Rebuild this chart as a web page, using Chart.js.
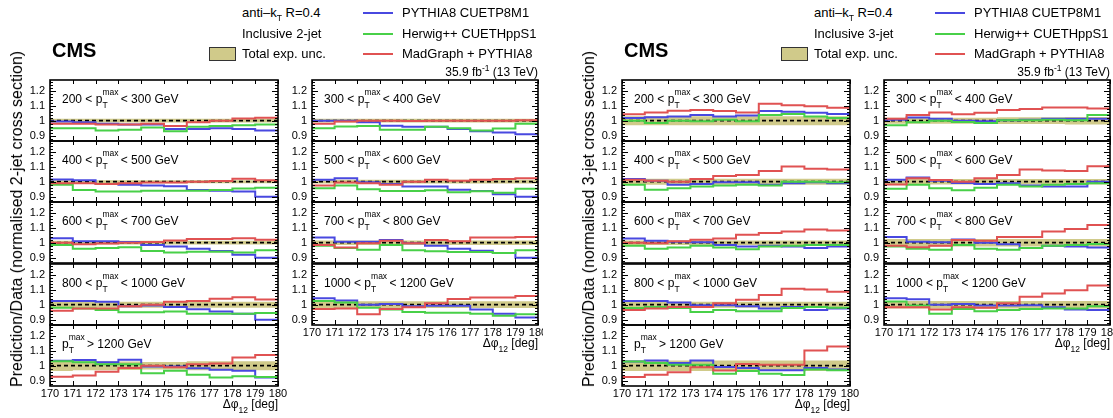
<!DOCTYPE html>
<html><head><meta charset="utf-8">
<script src="https://cdn.jsdelivr.net/npm/chart.js@4.4.1/dist/chart.umd.min.js"></script>
<style>
body{margin:0;background:#fff;}
#root{position:relative;width:1113px;height:418px;overflow:hidden;font-family:"Liberation Sans",Arial,Helvetica,sans-serif;color:#000;background:#fff;}
.t{position:absolute;white-space:nowrap;line-height:1;}
canvas{position:absolute;}
.ss{display:inline-block;position:relative;width:15px;height:9px;}
.ss .sp{position:absolute;left:0;top:-6px;font-size:8.5px;}
.ss .sb{position:absolute;left:0;top:7px;font-size:8.5px;}
</style></head><body><div id="root"></div>
<script>
// ---------- data ----------
const dphiEdges = [170,171,172,173,174,175,176,177,178,179,180];
const yTicks = [0.9,1.0,1.1,1.2];
const yTickLabels = ['0.9','1','1.1','1.2'];
const ptLow  = [200,300,400,500,600,700,800,1000,1200];
const ptHigh = [300,400,500,600,700,800,1000,1200,null];
const jetLabels = ['2-jet','3-jet'];

// Inclusive 2-jet: one row per pT bin, one value per dphi bin
const pythia2 = [
 [0.995,0.99,0.98,0.975,0.975,0.945,0.945,0.95,0.945,0.935],
 [1.0,1.0,0.99,0.967,0.96,0.96,0.945,0.93,0.922,0.91],
 [1.015,1.01,0.985,0.98,0.975,0.97,0.945,0.94,0.935,0.9],
 [1.013,1.023,0.996,0.985,0.968,0.968,0.947,0.938,0.917,0.9],
 [1.03,1.01,1.01,1.005,0.985,0.975,0.96,0.945,0.92,0.9],
 [1.034,1.006,1.006,1.017,0.996,0.98,0.96,0.947,0.932,0.9],
 [1.025,1.025,1.02,0.99,0.995,0.985,0.97,0.955,0.94,0.9],
 [1.043,1.028,1.0,1.004,0.99,0.993,0.993,0.968,0.94,0.915],
 [1.033,1.038,1.022,1.04,0.995,0.995,0.983,0.973,0.967,0.922]
];
const herwig2 = [
 [0.95,0.95,0.935,0.94,0.955,0.93,0.96,0.965,0.97,0.975],
 [0.95,0.962,0.965,0.94,0.94,0.96,0.95,0.935,0.948,0.98],
 [0.98,0.945,0.935,0.935,0.94,0.94,0.94,0.945,0.955,0.96],
 [0.957,0.975,0.95,0.938,0.938,0.943,0.93,0.936,0.926,0.953],
 [0.985,0.96,0.965,0.97,0.945,0.935,0.94,0.94,0.935,0.95],
 [0.979,0.964,0.953,0.985,0.949,0.943,0.938,0.938,0.932,0.949],
 [0.98,0.975,0.965,0.95,0.95,0.955,0.94,0.94,0.94,0.945],
 [1.025,1.015,0.979,0.968,0.951,0.947,0.947,0.94,0.926,0.936],
 [1.03,1.022,1.01,1.01,0.95,0.967,0.94,0.922,0.93,0.925]
];
const madgraph2 = [
 [0.98,0.98,0.975,0.975,0.98,0.965,0.99,1.0,1.015,1.02],
 [0.98,0.995,1.0,1.0,0.998,1.0,1.0,1.0,1.0,1.003],
 [0.99,0.99,0.985,0.99,0.995,0.995,1.0,1.005,1.02,1.01],
 [0.975,0.995,0.99,0.98,1.0,1.013,1.006,1.013,1.017,1.023],
 [1.0,0.99,0.995,1.0,1.005,1.015,1.025,1.025,1.03,1.02],
 [0.985,0.968,0.996,1.013,0.996,1.017,1.01,1.034,1.034,1.038],
 [0.96,0.975,0.975,0.99,1.0,1.02,1.025,1.04,1.05,1.035],
 [0.972,0.975,0.936,0.972,0.983,1.01,1.038,1.047,1.047,1.057],
 [0.927,0.935,0.96,0.985,1.0,0.99,1.01,1.015,1.055,1.07]
];
const unc2 = [
 [0.012,0.012,0.012,0.012,0.012,0.012,0.012,0.012,0.012,0.012],
 [0.012,0.012,0.012,0.012,0.012,0.012,0.012,0.012,0.012,0.012],
 [0.01,0.01,0.01,0.01,0.01,0.01,0.01,0.01,0.01,0.01],
 [0.012,0.012,0.012,0.012,0.012,0.012,0.012,0.012,0.012,0.012],
 [0.012,0.012,0.012,0.012,0.012,0.012,0.012,0.012,0.012,0.012],
 [0.015,0.015,0.015,0.015,0.015,0.015,0.015,0.015,0.015,0.015],
 [0.02,0.02,0.02,0.02,0.02,0.02,0.02,0.02,0.02,0.02],
 [0.022,0.022,0.022,0.022,0.022,0.022,0.022,0.022,0.022,0.022],
 [0.035,0.03,0.03,0.028,0.025,0.025,0.03,0.03,0.03,0.03]
];
// Inclusive 3-jet
const pythia3 = [
 [1.017,1.023,1.028,1.038,1.028,1.034,1.064,1.06,1.053,1.045],
 [1.006,1.021,1.013,1.0,0.996,1.002,1.006,1.013,1.013,1.013],
 [1.017,1.006,0.979,0.985,0.996,0.996,0.979,0.99,0.996,0.99],
 [1.013,1.028,1.006,0.991,0.985,0.989,0.974,0.968,0.968,1.0],
 [1.028,1.013,1.006,1.002,0.985,0.974,0.98,0.974,0.964,0.974],
 [1.038,1.006,1.002,1.021,1.0,0.989,0.964,0.979,0.974,0.968],
 [1.025,1.025,1.015,0.996,0.996,0.99,0.975,0.985,0.965,0.975],
 [1.043,1.036,1.0,1.004,0.994,0.994,0.996,0.983,0.968,0.964],
 [1.028,1.035,1.017,1.035,0.991,0.985,0.97,0.97,0.985,0.975]
];
const herwig3 = [
 [1.0,0.985,1.0,0.996,1.006,0.996,1.038,1.045,1.028,1.017],
 [0.97,0.989,1.0,0.991,0.985,1.002,1.002,1.006,1.002,1.038],
 [0.979,0.947,0.957,0.968,0.974,0.979,0.974,1.0,1.0,0.996],
 [0.953,0.979,0.957,0.943,0.96,0.979,0.968,0.979,0.985,0.989],
 [0.979,0.96,0.968,0.979,0.968,0.957,0.974,0.98,0.985,0.985],
 [0.974,0.96,0.953,0.985,0.96,0.953,0.964,0.98,0.985,0.991],
 [0.978,0.985,0.978,0.951,0.964,0.957,0.957,0.978,0.985,0.98],
 [1.021,0.994,0.94,0.972,0.957,0.964,0.972,0.974,0.974,0.989],
 [1.028,1.017,1.006,1.006,0.947,0.964,0.947,0.938,0.975,0.97]
];
const madgraph3 = [
 [1.043,1.055,1.066,1.07,1.064,1.055,1.113,1.102,1.096,1.085],
 [1.013,1.038,1.055,1.043,1.053,1.07,1.077,1.087,1.087,1.081],
 [1.013,1.006,1.0,1.017,1.038,1.045,1.07,1.1,1.085,1.08],
 [0.981,1.023,1.011,1.0,1.023,1.045,1.081,1.074,1.07,1.102],
 [1.0,0.996,1.01,1.02,1.028,1.053,1.064,1.074,1.087,1.08],
 [0.979,0.97,0.979,1.017,1.013,1.038,1.038,1.074,1.091,1.117],
 [0.964,0.975,0.985,0.985,1.01,1.032,1.064,1.106,1.1,1.085],
 [0.983,0.983,0.968,0.983,0.979,1.01,1.053,1.074,1.096,1.128],
 [0.925,0.94,0.957,0.99,0.968,1.011,1.006,1.006,1.1,1.128]
];
const unc3 = [
 [0.03,0.03,0.03,0.03,0.03,0.03,0.03,0.03,0.03,0.03],
 [0.02,0.02,0.02,0.02,0.02,0.022,0.022,0.022,0.025,0.025],
 [0.02,0.02,0.02,0.02,0.02,0.02,0.02,0.02,0.02,0.02],
 [0.018,0.018,0.018,0.018,0.018,0.018,0.018,0.018,0.018,0.018],
 [0.015,0.015,0.015,0.015,0.015,0.015,0.015,0.015,0.015,0.015],
 [0.025,0.025,0.025,0.025,0.025,0.025,0.025,0.025,0.025,0.025],
 [0.02,0.02,0.02,0.02,0.02,0.02,0.02,0.02,0.02,0.02],
 [0.025,0.025,0.025,0.025,0.025,0.025,0.025,0.025,0.025,0.025],
 [0.035,0.035,0.035,0.035,0.035,0.035,0.035,0.035,0.035,0.035]
];
const seriesNames = ['PYTHIA8 CUETP8M1','Herwig++ CUETHppS1','MadGraph + PYTHIA8'];

// ---------- style / layout ----------
const C_BLUE='#4848e0', C_GREEN='#48d048', C_RED='#e05252', C_BAND='rgb(208,202,138)';
const FIG_X=[0,572];
const COL_X=[50,312], COL_W=[228,226];
const ROW_Y=[80,141,202,264,325], ROW_H=61;
const YMIN=0.865, YMAX=1.27;
const FONT='"Liberation Sans", Arial, Helvetica, sans-serif';
const root=document.getElementById('root');

function addText(html, css){
  const d=document.createElement('div'); d.className='t'; d.innerHTML=html;
  Object.assign(d.style, css); root.appendChild(d); return d;
}

const framePlugin={
  id:'frame',
  afterDatasetsDraw(chart){
    const {ctx, chartArea:a, scales:{x,y}}=chart;
    ctx.save();
    ctx.strokeStyle='#000'; ctx.lineWidth=1;
    ctx.beginPath();
    for(const e of dphiEdges){
      const px=Math.round(x.getPixelForValue(e))+0.5;
      ctx.moveTo(px,a.bottom); ctx.lineTo(px,a.bottom-5);
      ctx.moveTo(px,a.top); ctx.lineTo(px,a.top+4);
    }
    for(const v of yTicks){
      const py=Math.round(y.getPixelForValue(v))+0.5;
      ctx.moveTo(a.left,py); ctx.lineTo(a.left+6,py);
      ctx.moveTo(a.right,py); ctx.lineTo(a.right-6,py);
    }
    for(let k=0;k<20;k++){
      const v=0.88+0.02*k; if(v>YMAX) break;
      const py=Math.round(y.getPixelForValue(v))+0.5;
      ctx.moveTo(a.left,py); ctx.lineTo(a.left+3,py);
      ctx.moveTo(a.right,py); ctx.lineTo(a.right-3,py);
    }
    ctx.stroke();
    ctx.lineWidth=1.6;
    ctx.strokeRect(a.left,a.top,a.right-a.left,a.bottom-a.top);
    ctx.restore();
  }
};

function stepData(vals){ return dphiEdges.map((e,i)=>({x:e,y:vals[Math.min(i,vals.length-1)]})); }

function makePanel(fig, idx, py8, hw8, mg8, unc){
  const col=idx%2, row=Math.floor(idx/2);
  const isBottom=(col===0&&row===4)||(col===1&&row===3);
  const px=FIG_X[fig]+COL_X[col], pw=COL_W[col];
  const top=ROW_Y[row], ph=ROW_H;
  const LM=40, RM=(col===1?5:12), TM=2, BM=(isBottom?15:2);
  const cv=document.createElement('canvas');
  const W=pw+LM+RM, H=ph+TM+BM;
  cv.width=W; cv.height=H;
  cv.style.left=(px-LM)+'px'; cv.style.top=(top-TM)+'px';
  cv.style.width=W+'px'; cv.style.height=H+'px';
  root.appendChild(cv);
  const line=(vals,color)=>({type:'line',data:stepData(vals),borderColor:color,borderWidth:2,stepped:true,pointRadius:0,fill:false,tension:0});
  new Chart(cv,{
    type:'line',
    data:{datasets:[
      line(mg8[idx],C_RED),
      line(hw8[idx],C_GREEN),
      line(py8[idx],C_BLUE),
      {type:'line',data:[{x:170,y:1},{x:180,y:1}],borderColor:'#000',borderWidth:1.6,borderDash:[4,3],pointRadius:0,fill:false},
      {type:'line',data:stepData(unc[idx].map(u=>1+u)),borderWidth:0,borderColor:'rgba(0,0,0,0)',stepped:true,pointRadius:0,fill:false},
      {type:'line',data:stepData(unc[idx].map(u=>1-u)),borderWidth:0,borderColor:'rgba(0,0,0,0)',stepped:true,pointRadius:0,fill:'-1',backgroundColor:C_BAND}
    ]},
    options:{
      responsive:false, animation:false, devicePixelRatio:1,
      layout:{padding:{left:0,right:RM,top:TM,bottom:isBottom?0:BM}},
      plugins:{legend:{display:false},tooltip:{enabled:false},title:{display:false}},
      scales:{
        x:{type:'linear',min:170,max:180,offset:false,display:isBottom,
           grid:{display:false,drawTicks:false},border:{display:false},
           ticks:{font:{family:FONT,size:11},color:'#000',padding:1,maxRotation:0,autoSkip:false,callback:v=>String(v)},
           afterBuildTicks:s=>{s.ticks=dphiEdges.map(v=>({value:v}));},
           afterFit:s=>{s.height=isBottom?BM:0;s.paddingLeft=0;s.paddingRight=0;}},
        y:{type:'linear',min:YMIN,max:YMAX,
           grid:{display:false,drawTicks:false},border:{display:false},
           ticks:{font:{family:FONT,size:11},color:'#000',padding:5,
             callback:(v)=>{const i=yTicks.findIndex(t=>Math.abs(t-v)<1e-6);return i>=0?yTickLabels[i]:'';}},
           afterBuildTicks:s=>{s.ticks=yTicks.map(v=>({value:v}));},
           afterFit:s=>{s.width=LM;s.paddingTop=0;s.paddingBottom=0;}}
      }
    },
    plugins:[framePlugin]
  });
  // panel label
  const lo=ptLow[idx], hi=ptHigh[idx];
  const pt='p<span class="ss"><span class="sp">max</span><span class="sb">T</span></span>';
  const html = hi===null ? `${pt} &gt; ${lo} GeV` : `${lo} &lt; ${pt} &lt; ${hi} GeV`;
  addText(html,{left:(px+12)+'px',top:(top+13)+'px',fontSize:'12px'});
  if(isBottom){
    addText('&Delta;&phi;<span style="font-size:8.5px;position:relative;top:5px">12</span> [deg]',
      {right:(1113-(px+pw))+'px',top:(top+ph+12)+'px',fontSize:'12px'});
  }
}

function makeFigure(fig, py8, hw8, mg8, unc){
  const ox=FIG_X[fig];
  for(let i=0;i<9;i++) makePanel(fig,i,py8,hw8,mg8,unc);
  addText('CMS',{left:(52+ox)+'px',top:(40)+'px',fontSize:'20px',fontWeight:'bold'});
  addText('anti&ndash;k<span style="font-size:8.5px;position:relative;top:4px">T</span> R=0.4',{left:(242+ox)+'px',top:'6px',fontSize:'13px'});
  addText('Inclusive '+jetLabels[fig],{left:(242+ox)+'px',top:'27px',fontSize:'13px'});
  addText('Total exp. unc.',{left:(242+ox)+'px',top:'47px',fontSize:'13px'});
  const sw=document.createElement('div');
  Object.assign(sw.style,{position:'absolute',left:(209+ox)+'px',top:'47px',width:'25px',height:'12px',background:C_BAND,border:'1px solid #333'});
  root.appendChild(sw);
  const cols=[C_BLUE,C_GREEN,C_RED], ys=[13,34,54];
  for(let k=0;k<3;k++){
    const l=document.createElement('div');
    Object.assign(l.style,{position:'absolute',left:(363+ox)+'px',top:(ys[k]-1)+'px',width:'30px',height:'2px',background:cols[k]});
    root.appendChild(l);
    addText(seriesNames[k],{left:(402+ox)+'px',top:(ys[k]-7)+'px',fontSize:'13px'});
  }
  addText('35.9 fb<span style="font-size:8.5px;position:relative;top:-5px">-1</span> (13 TeV)',{right:(1113-(538+ox))+'px',top:'66px',fontSize:'12px'});
  addText('Prediction/Data (normalised '+jetLabels[fig]+' cross section)',{left:(17+ox)+'px',top:'219px',fontSize:'16px',transform:'translate(-50%,-50%) rotate(-90deg)'});
}

makeFigure(0,pythia2,herwig2,madgraph2,unc2);
makeFigure(1,pythia3,herwig3,madgraph3,unc3);
</script></body></html>
